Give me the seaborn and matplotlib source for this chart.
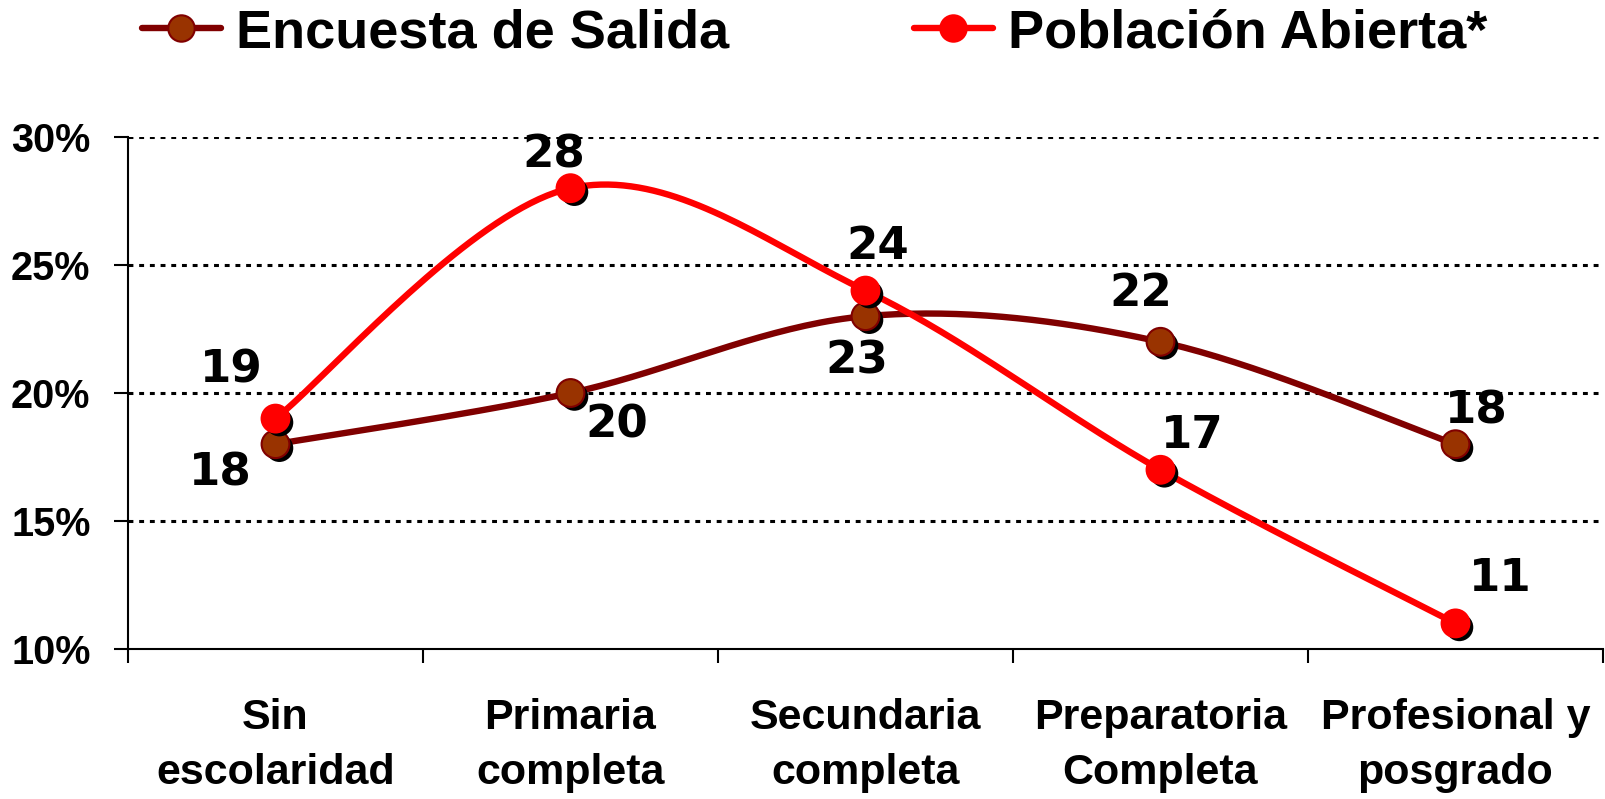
import numpy as np
import pandas as pd
import matplotlib
matplotlib.use("Agg")
import matplotlib.pyplot as plt
import matplotlib.patheffects as pe
from matplotlib.lines import Line2D
from matplotlib.ticker import FuncFormatter, FixedLocator
import seaborn as sns

categories = ["Sin\nescolaridad", "Primaria\ncompleta", "Secundaria\ncompleta",
              "Preparatoria\nCompleta", "Profesional y\nposgrado"]
encuesta = [18, 20, 23, 22, 18]
poblacion = [19, 28, 24, 17, 11]
series_names = ["Encuesta de Salida", "Población Abierta*"]
y_ticks = [10, 15, 20, 25, 30]

sns.set_theme(style="white")
plt.rcParams['font.family'] = ['Liberation Sans', 'DejaVu Sans']
plt.rcParams['text.color'] = 'black'
plt.rcParams['xtick.color'] = 'black'
plt.rcParams['ytick.color'] = 'black'

fig = plt.figure(figsize=(16.06, 7.99), dpi=100)
ax = fig.add_axes([128/1606, 1-649/799, (1603-128)/1606, (649-137)/799])


def smooth(xv, yv, n=40):
    """Excel-style smoothed curve (Catmull-Rom / Bezier with 1/6 control points)."""
    P = np.column_stack([xv, yv]).astype(float)
    Pe = np.vstack([P[0], P, P[-1]])
    out = []
    for i in range(len(P) - 1):
        p0, p1, p2, p3 = Pe[i], Pe[i+1], Pe[i+2], Pe[i+3]
        c1 = p1 + (p2 - p0) / 6
        c2 = p2 - (p3 - p1) / 6
        t = np.linspace(0, 1, n)[:, None]
        seg = ((1-t)**3)*p1 + 3*((1-t)**2)*t*c1 + 3*(1-t)*t**2*c2 + t**3*p2
        out.append(seg if i == 0 else seg[1:])
    s = np.vstack(out)
    return s[:, 0], s[:, 1]


xpos = np.arange(len(categories))
styles = [
    dict(line="#800000", face="#993300", edge="#800000"),
    dict(line="#FF0000", face="#FF0000", edge="#FF0000"),
]
shadow = [pe.SimplePatchShadow(offset=(2.8, -2.8), shadow_rgbFace="black", alpha=1.0), pe.Normal()]

for vals, st, name in zip([encuesta, poblacion], styles, series_names):
    sx, sy = smooth(xpos, vals)
    sns.lineplot(x=sx, y=sy, sort=False, estimator=None, ax=ax, color=st["line"], lw=4.6, zorder=3)
    ax.plot(xpos, vals, ls="none", marker="o", ms=20, mfc=st["face"], mec=st["edge"], mew=1.5,
            path_effects=shadow, zorder=4)

# data labels
enc_off = [(-40, -21), (33, -23), (-6, -32), (-14, 35), (15, 24)]
pob_off = [(-32, 35), (-12, 24), (9, 32), (23, 25), (32, 32)]
for vals, offs in [(encuesta, enc_off), (poblacion, pob_off)]:
    for x, v, (dx, dy) in zip(xpos, vals, offs):
        ax.annotate(f"{v}", (x, v), xytext=(dx, dy), textcoords="offset points",
                    ha="center", va="center", fontsize=32.5, fontweight="bold",
                    family="DejaVu Sans", color="black", zorder=5)

ax.set_xlim(-0.5, len(categories) - 0.5)
ax.set_ylim(10, 30)
ax.set_yticks(y_ticks)
ax.yaxis.set_major_formatter(FuncFormatter(lambda v, p: f"{int(v)}%"))
ax.set_xticks(xpos)
ax.set_xticklabels(categories, fontsize=31, fontweight="bold", linespacing=1.5)
ax.xaxis.set_minor_locator(FixedLocator(np.arange(-0.5, len(categories), 1.0)))
ax.tick_params(axis="x", which="major", length=0, pad=35, colors="black")
ax.tick_params(axis="x", which="minor", length=10, width=1.5, direction="out", color="black", bottom=True)
ax.tick_params(axis="y", which="major", length=10, width=1.5, direction="out", pad=17,
               labelsize=28.5, colors="black", left=True)
for lab in ax.get_yticklabels():
    lab.set_fontweight("bold")

for v in y_ticks[1:]:
    ax.axhline(v, color="black", lw=2.2, ls=(0, (1.6, 1.9)), zorder=1)

for s in ["top", "right"]:
    ax.spines[s].set_visible(False)
for s in ["left", "bottom"]:
    ax.spines[s].set_color("black")
    ax.spines[s].set_linewidth(1.5)
ax.set_xlabel("")
ax.set_ylabel("")

handles = [Line2D([0], [0], color=st["line"], lw=4.6, marker="o", ms=19,
                  mfc=st["face"], mec=st["edge"], mew=1.5) for st in styles]
fig.legend(handles, series_names, loc="center left", bbox_to_anchor=(142/1606, 1-33/799),
           ncol=2, frameon=False, borderpad=0, borderaxespad=0, handlelength=1.45,
           handletextpad=0.28, columnspacing=3.42, labelcolor="black",
           prop=dict(family="Liberation Sans", weight="bold", size=39))

fig.savefig("out.png", dpi=100)
